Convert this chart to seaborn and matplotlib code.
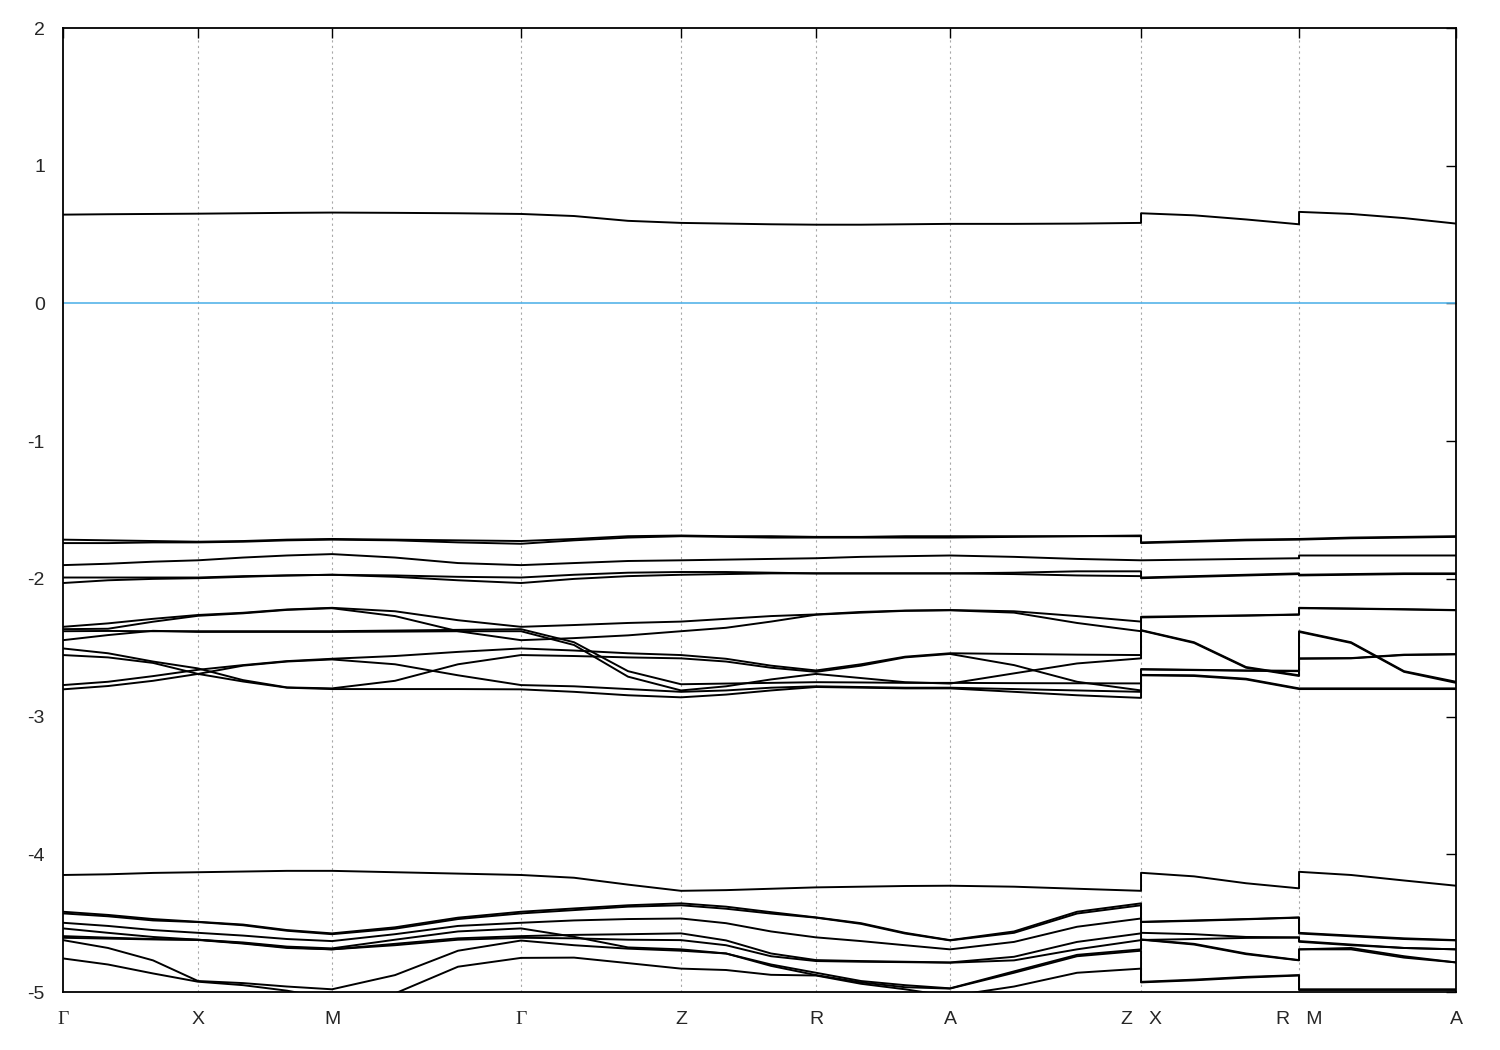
import numpy as np
import pandas as pd
import seaborn as sns
import matplotlib.pyplot as plt

sns.set_theme(style="white")
plt.rcParams['font.family'] = ['Liberation Sans', 'DejaVu Sans']
plt.rcParams['axes.unicode_minus'] = False

# high symmetry points along the k-path
sym_k = [0.0, 0.135, 0.269, 0.458, 0.618, 0.753, 0.887, 1.078, 1.236, 1.393]
sym_labels = ['Γ', 'X', 'M', 'Γ', 'Z', 'R', 'A', 'Z   X', 'R   M', 'A']

# k points where the bands were read (Z|X and R|M appear twice: jumps)
k = [0.000, 0.045, 0.090, 0.135, 0.180, 0.224, 0.269, 0.332, 0.395,
     0.458, 0.511, 0.565, 0.618, 0.663, 0.708, 0.753, 0.798, 0.842,
     0.887, 0.951, 1.014, 1.078, 1.078, 1.131, 1.183, 1.236,
     1.236, 1.288, 1.341, 1.393]

fermi = 0.0

# band energies (eV)
b_top = [0.645, 0.648, 0.65, 0.652, 0.655, 0.658, 0.66, 0.658, 0.655, 0.65, 0.635, 0.60,
         0.585, 0.58, 0.575, 0.572, 0.572, 0.575, 0.578, 0.578, 0.58, 0.585,
         0.655, 0.64, 0.61, 0.575, 0.665, 0.65, 0.62, 0.58]
b1a = [-1.715, -1.72, -1.725, -1.73, -1.725, -1.715, -1.71, -1.715, -1.72, -1.725, -1.71, -1.69,
       -1.685, -1.69, -1.69, -1.695, -1.695, -1.69, -1.69, -1.69, -1.69, -1.685,
       -1.735, -1.725, -1.715, -1.71, -1.71, -1.70, -1.695, -1.69]
b1b = [-1.74, -1.74, -1.735, -1.735, -1.73, -1.72, -1.715, -1.72, -1.735, -1.745, -1.72, -1.70,
       -1.69, -1.695, -1.70, -1.70, -1.70, -1.70, -1.70, -1.695, -1.69, -1.69,
       -1.74, -1.73, -1.72, -1.715, -1.715, -1.705, -1.70, -1.695]
b2 = [-1.90, -1.89, -1.875, -1.865, -1.845, -1.83, -1.82, -1.845, -1.885, -1.90, -1.885, -1.87,
      -1.865, -1.86, -1.855, -1.85, -1.84, -1.835, -1.83, -1.84, -1.855, -1.865,
      -1.865, -1.86, -1.855, -1.85, -1.83, -1.83, -1.83, -1.83]
b3a = [-1.99, -1.99, -1.99, -1.99, -1.98, -1.975, -1.97, -1.975, -1.985, -1.99, -1.97, -1.955,
       -1.95, -1.95, -1.955, -1.96, -1.96, -1.96, -1.96, -1.955, -1.945, -1.945,
       -1.99, -1.98, -1.97, -1.96, -1.97, -1.965, -1.96, -1.96]
b3b = [-2.03, -2.01, -2.00, -1.995, -1.985, -1.975, -1.97, -1.985, -2.01, -2.03, -2.00, -1.98,
       -1.97, -1.965, -1.96, -1.96, -1.96, -1.96, -1.96, -1.965, -1.975, -1.98,
       -1.995, -1.985, -1.975, -1.965, -1.975, -1.97, -1.965, -1.965]
b4a = [-2.348, -2.323, -2.29, -2.262, -2.246, -2.222, -2.21, -2.235, -2.30, -2.348, -2.335, -2.32,
       -2.31, -2.29, -2.27, -2.258, -2.24, -2.23, -2.226, -2.235, -2.27, -2.31,
       -2.275, -2.27, -2.265, -2.258, -2.21, -2.215, -2.22, -2.226]
b4b = [-2.365, -2.362, -2.311, -2.268, -2.25, -2.225, -2.213, -2.27, -2.38, -2.445, -2.43, -2.41,
       -2.38, -2.355, -2.31, -2.26, -2.245, -2.232, -2.228, -2.245, -2.32, -2.38,
       -2.28, -2.273, -2.267, -2.26, -2.213, -2.217, -2.222, -2.228]
b4c = [-2.38, -2.378, -2.38, -2.38, -2.38, -2.38, -2.38, -2.375, -2.37, -2.365, -2.46, -2.67,
       -2.765, -2.76, -2.755, -2.75, -2.752, -2.755, -2.755, -2.757, -2.758, -2.759,
       -2.655, -2.66, -2.665, -2.667, -2.38, -2.46, -2.67, -2.747]
b4d = [-2.445, -2.408, -2.377, -2.385, -2.385, -2.385, -2.385, -2.383, -2.38, -2.38, -2.48, -2.71,
       -2.81, -2.78, -2.73, -2.69, -2.72, -2.75, -2.76, -2.686, -2.614, -2.577,
       -2.375, -2.465, -2.645, -2.705, -2.58, -2.577, -2.553, -2.548]
b5a = [-2.505, -2.54, -2.60, -2.65, -2.735, -2.788, -2.795, -2.74, -2.62, -2.553, -2.56, -2.57,
       -2.577, -2.60, -2.645, -2.675, -2.63, -2.57, -2.545, -2.626, -2.747, -2.81,
       -2.658, -2.662, -2.667, -2.67, -2.385, -2.465, -2.675, -2.755]
b5b = [-2.553, -2.57, -2.61, -2.69, -2.745, -2.79, -2.80, -2.80, -2.80, -2.802, -2.82, -2.845,
       -2.86, -2.84, -2.81, -2.785, -2.79, -2.795, -2.795, -2.82, -2.845, -2.864,
       -2.70, -2.705, -2.73, -2.80, -2.80, -2.80, -2.80, -2.80]
b5c = [-2.771, -2.747, -2.706, -2.66, -2.626, -2.597, -2.58, -2.56, -2.53, -2.505, -2.52, -2.54,
       -2.553, -2.58, -2.63, -2.665, -2.62, -2.565, -2.54, -2.545, -2.55, -2.553,
       -2.372, -2.46, -2.64, -2.70, -2.577, -2.575, -2.55, -2.546]
b5d = [-2.802, -2.778, -2.74, -2.69, -2.63, -2.60, -2.585, -2.62, -2.70, -2.771, -2.78, -2.80,
       -2.82, -2.81, -2.79, -2.78, -2.785, -2.79, -2.79, -2.80, -2.81, -2.82,
       -2.697, -2.70, -2.725, -2.795, -2.795, -2.795, -2.795, -2.795]
b6t = [-4.15, -4.145, -4.135, -4.13, -4.125, -4.12, -4.12, -4.13, -4.14, -4.15, -4.17, -4.22,
       -4.265, -4.26, -4.25, -4.24, -4.235, -4.23, -4.228, -4.235, -4.25, -4.265,
       -4.134, -4.16, -4.21, -4.247, -4.127, -4.15, -4.19, -4.228]
g1 = [-4.417, -4.44, -4.47, -4.49, -4.51, -4.55, -4.574, -4.53, -4.46, -4.417, -4.393, -4.37,
      -4.356, -4.38, -4.42, -4.458, -4.50, -4.57, -4.623, -4.56, -4.417, -4.356,
      -4.49, -4.48, -4.47, -4.458, -4.57, -4.59, -4.61, -4.623]
g2 = [-4.429, -4.45, -4.48, -4.492, -4.515, -4.555, -4.58, -4.54, -4.47, -4.429, -4.405, -4.38,
      -4.37, -4.395, -4.43, -4.46, -4.505, -4.575, -4.625, -4.57, -4.43, -4.37,
      -4.492, -4.483, -4.472, -4.46, -4.575, -4.595, -4.615, -4.625]
g3 = [-4.497, -4.52, -4.55, -4.57, -4.59, -4.615, -4.63, -4.58, -4.52, -4.497, -4.48, -4.47,
      -4.466, -4.50, -4.56, -4.603, -4.63, -4.66, -4.69, -4.636, -4.526, -4.466,
      -4.57, -4.58, -4.60, -4.603, -4.63, -4.655, -4.68, -4.69]
g4 = [-4.538, -4.57, -4.60, -4.62, -4.64, -4.67, -4.683, -4.62, -4.56, -4.538, -4.599, -4.676,
      -4.69, -4.72, -4.80, -4.86, -4.92, -4.95, -4.973, -4.85, -4.73, -4.69,
      -4.622, -4.615, -4.607, -4.605, -4.635, -4.66, -4.68, -4.69]
g5 = [-4.594, -4.605, -4.615, -4.62, -4.645, -4.675, -4.69, -4.65, -4.61, -4.594, -4.585, -4.58,
      -4.574, -4.625, -4.72, -4.768, -4.775, -4.78, -4.785, -4.744, -4.636, -4.574,
      -4.618, -4.65, -4.72, -4.768, -4.69, -4.68, -4.74, -4.785]
g6 = [-4.606, -4.612, -4.618, -4.622, -4.648, -4.68, -4.69, -4.66, -4.62, -4.606, -4.61, -4.62,
      -4.623, -4.66, -4.74, -4.775, -4.78, -4.783, -4.787, -4.77, -4.69, -4.623,
      -4.62, -4.655, -4.725, -4.77, -4.69, -4.69, -4.75, -4.785]
g7 = [-4.623, -4.68, -4.77, -4.92, -4.935, -4.96, -4.98, -4.877, -4.70, -4.626, -4.66, -4.685,
      -4.70, -4.72, -4.81, -4.877, -4.93, -4.965, -4.975, -4.86, -4.74, -4.70,
      -4.926, -4.91, -4.89, -4.877, -4.98, -4.98, -4.98, -4.98]
g8 = [-4.756, -4.80, -4.865, -4.925, -4.95, -4.99, -5.05, -5.01, -4.816, -4.752, -4.75, -4.79,
      -4.83, -4.84, -4.875, -4.88, -4.94, -4.98, -5.03, -4.96, -4.86, -4.83,
      -4.93, -4.915, -4.895, -4.88, -4.985, -4.985, -4.985, -4.985]

bands = {'top': b_top, '1a': b1a, '1b': b1b, '2': b2, '3a': b3a, '3b': b3b,
         '4a': b4a, '4b': b4b, '4c': b4c, '4d': b4d,
         '5a': b5a, '5b': b5b, '5c': b5c, '5d': b5d,
         '6t': b6t, 'g1': g1, 'g2': g2, 'g3': g3, 'g4': g4,
         'g5': g5, 'g6': g6, 'g7': g7, 'g8': g8}

rows = []
for name, energies in bands.items():
    for kk, ee in zip(k, energies):
        rows.append((name, kk, ee))
df = pd.DataFrame(rows, columns=['band', 'k', 'E'])

fig = plt.figure(figsize=(15, 10.5), dpi=100)
ax = fig.add_axes([0.042, 0.0552, 0.9287, 0.9181])

# dotted verticals at the inner high symmetry points
for kk in sym_k[1:-1]:
    ax.axvline(kk, color='#a8a8a8', lw=0.8, ls=(0, (2, 3)), zorder=0)

sns.lineplot(data=df, x='k', y='E', units='band', estimator=None, sort=False,
             color='black', lw=1.4, ax=ax, legend=False)
ax.axhline(fermi, color='#56b4e9', lw=1.2)

ax.set_xlim(sym_k[0], sym_k[-1])
ax.set_ylim(-5, 2)
ax.set_xticks(sym_k)
ax.set_xticklabels(sym_labels)
ax.set_yticks(range(-5, 3))
ax.set_xlabel('')
ax.set_ylabel('')
ax.tick_params(axis='both', direction='in', length=7, width=1, top=True, right=True,
               labelsize=14, color='black')
ax.tick_params(axis='x', pad=14)
ax.tick_params(axis='y', pad=13)
for lab in ax.get_xticklabels():
    if lab.get_text() == 'Γ':
        lab.set_family(['Liberation Serif', 'DejaVu Serif'])
for sp in ax.spines.values():
    sp.set_linewidth(1.3)
    sp.set_color('black')

fig.savefig('out.png', dpi=100)
